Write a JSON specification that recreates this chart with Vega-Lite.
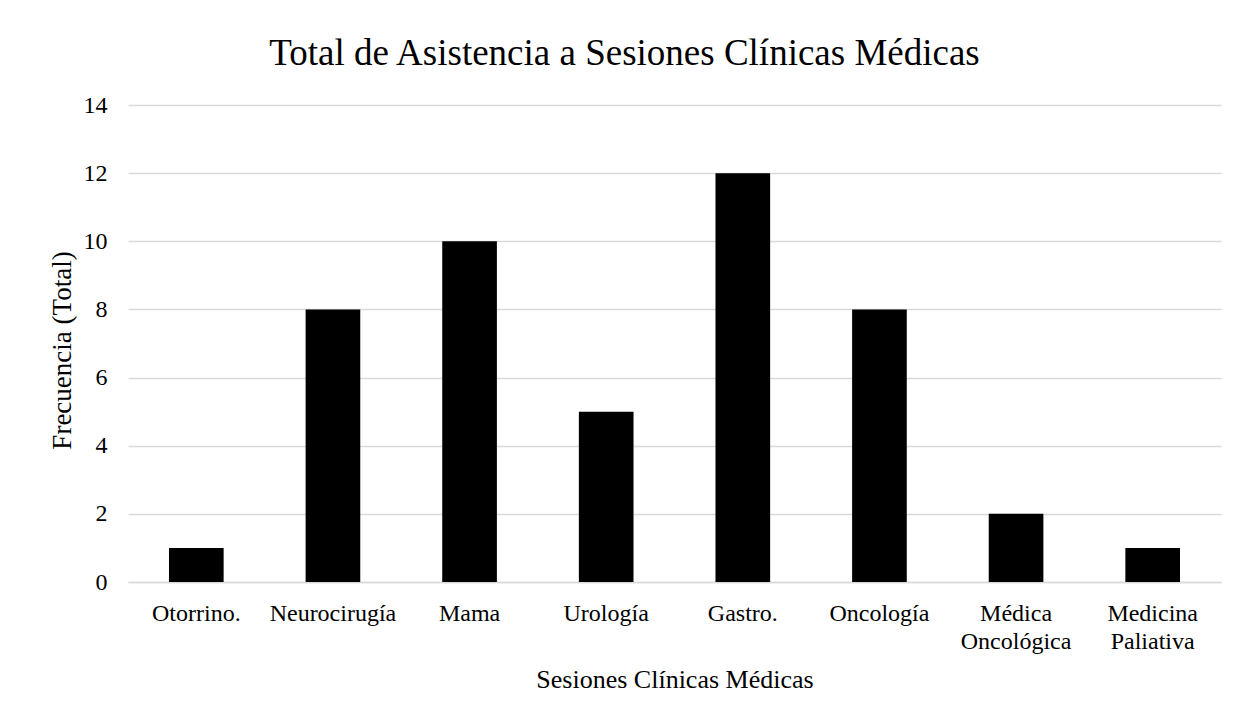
{
  "$schema": "https://vega.github.io/schema/vega-lite/v6.json",
  "width": 1093,
  "height": 477,
  "autosize": {"type": "none"},
  "padding": {"left": 128, "top": 105, "right": 17, "bottom": 137},
  "background": "white",
  "title": {
    "text": "Total de Asistencia a Sesiones Clínicas Médicas",
    "font": "Liberation Serif",
    "fontSize": 37,
    "fontWeight": "normal",
    "color": "#000000",
    "anchor": "middle",
    "baseline": "alphabetic",
    "offset": -9,
    "dx": -50
  },
  "data": {
    "values": [
      {"sesion": "Otorrino.", "total": 1},
      {"sesion": "Neurocirugía", "total": 8},
      {"sesion": "Mama", "total": 10},
      {"sesion": "Urología", "total": 5},
      {"sesion": "Gastro.", "total": 12},
      {"sesion": "Oncología", "total": 8},
      {"sesion": "Médica Oncológica", "total": 2},
      {"sesion": "Medicina Paliativa", "total": 1}
    ]
  },
  "mark": {"type": "bar", "color": "#000000"},
  "encoding": {
    "x": {
      "field": "sesion",
      "type": "nominal",
      "sort": null,
      "scale": {"paddingInner": 0.6, "paddingOuter": 0.3},
      "axis": {
        "title": "Sesiones Clínicas Médicas",
        "labelAngle": 0,
        "labelExpr": "split(datum.label, ' ')",
        "labelFont": "Liberation Serif",
        "labelFontSize": 24,
        "labelColor": "#000000",
        "labelBaseline": "top",
        "labelPadding": 19,
        "labelLineHeight": 28,
        "ticks": false,
        "domainColor": "#d9d9d9",
        "domainWidth": 1.5,
        "titleFont": "Liberation Serif",
        "titleFontSize": 26,
        "titleFontWeight": "normal",
        "titleColor": "#000000",
        "titleBaseline": "alphabetic",
        "titleY": 105
      }
    },
    "y": {
      "field": "total",
      "type": "quantitative",
      "scale": {"domain": [0, 14]},
      "axis": {
        "title": "Frecuencia (Total)",
        "values": [0, 2, 4, 6, 8, 10, 12, 14],
        "grid": true,
        "gridColor": "#d9d9d9",
        "gridWidth": 1.5,
        "domain": false,
        "ticks": false,
        "labelFont": "Liberation Serif",
        "labelFontSize": 24,
        "labelColor": "#000000",
        "labelPadding": 21,
        "titleFont": "Liberation Serif",
        "titleFontSize": 27,
        "titleFontWeight": "normal",
        "titleColor": "#000000",
        "titleAngle": -90,
        "titleBaseline": "alphabetic",
        "titleAlign": "center",
        "titleX": -58,
        "titleY": 245
      }
    }
  },
  "config": {"view": {"stroke": null}}
}
